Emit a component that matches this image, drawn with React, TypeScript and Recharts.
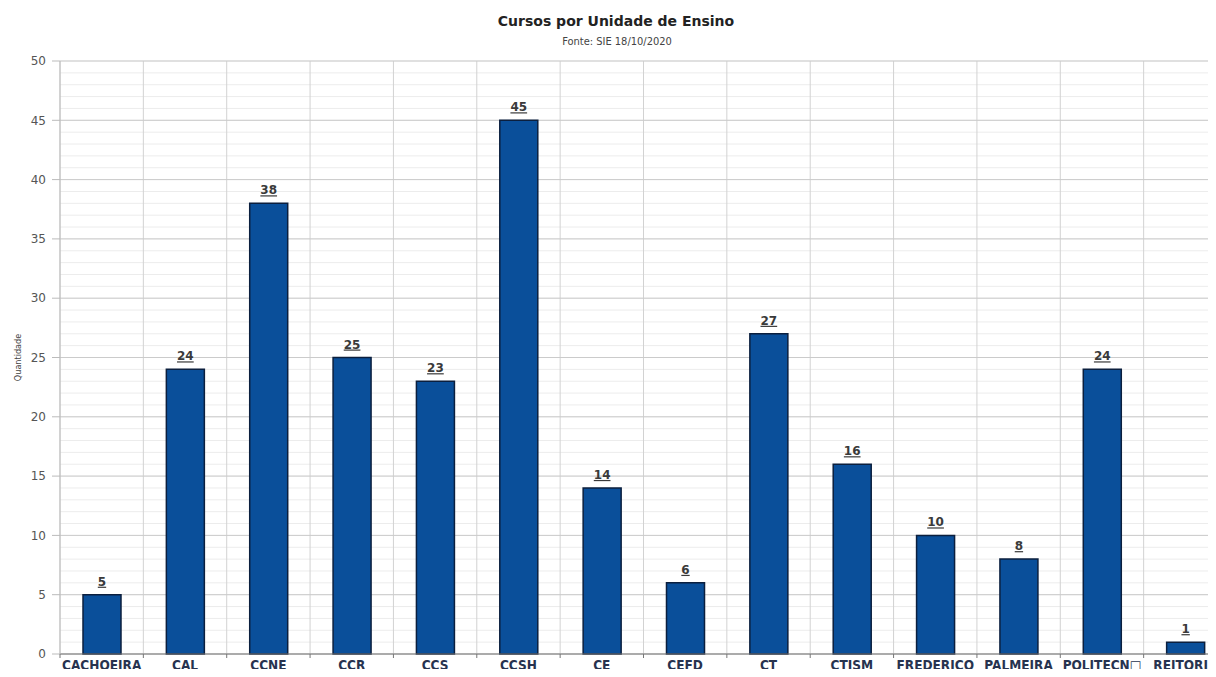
import React from 'react';
import {
  BarChart,
  Bar,
  XAxis,
  YAxis,
  CartesianGrid,
  LabelList,
  Label,
} from 'recharts';

// cursos por unidade (SIE 18/10/2020)
const unidades = [
  'CACHOEIRA',
  'CAL',
  'CCNE',
  'CCR',
  'CCS',
  'CCSH',
  'CE',
  'CEFD',
  'CT',
  'CTISM',
  'FREDERICO',
  'PALMEIRA',
  'POLITECN\u25A1',
  'REITORIA',
];
const cursos = [5, 24, 38, 25, 23, 45, 14, 6, 27, 16, 10, 8, 24, 1];

const Y_MAX = 50;
const yTicks = [0, 5, 10, 15, 20, 25, 30, 35, 40, 45, 50];
const yMinorTicks = Array.from({ length: Y_MAX + 1 }, (_, i) => i);

const data = unidades.map((u, i) => ({ unidade: u, cursos: cursos[i] }));

const FONT = '"DejaVu Sans", sans-serif';
const FONT_COND = '"DejaVu Sans Condensed", "DejaVu Sans", sans-serif';

// aplica a escala do eixo, seja funcao d3 ou o objeto do recharts
const applyScale = (scale: any, v: any) => {
  if (typeof scale === 'function') return scale(v);
  if (scale && typeof scale.map === 'function') return scale.map(v);
  return undefined;
};

// grade fina: uma linha por unidade do eixo Y
const minorLines = ({ yAxis, offset }: any) =>
  yMinorTicks.map((v) => {
    const p = applyScale(yAxis?.scale, v);
    return typeof p === 'number' && !isNaN(p)
      ? p
      : offset.top + offset.height * (1 - v / Y_MAX);
  });

// linhas verticais nos limites de cada categoria
const bandEdges = ({ offset }: any) => {
  const step = offset.width / unidades.length;
  return [...unidades.map((_, i) => offset.left + i * step), offset.left + offset.width];
};

function UnidadeTick(props: any) {
  const { x, y, payload, index, width, visibleTicksCount } = props;
  const half =
    payload.offset > 0 ? payload.offset : width / (visibleTicksCount || unidades.length) / 2;
  const last = index === unidades.length - 1;
  return (
    <g>
      <line x1={x - half} x2={x - half} y1={y} y2={y + 4} stroke='#777' />
      {last && <line x1={x + half} x2={x + half} y1={y} y2={y + 4} stroke='#777' />}
      <text
        x={x}
        y={y + 6}
        dy='0.71em'
        textAnchor='middle'
        fontFamily={FONT_COND}
        fontSize={13.5}
        fontWeight='bold'
        fill='#27334f'
      >
        {payload.value}
      </text>
    </g>
  );
}

function ValorLabel(props: any) {
  const { x, y, width, value } = props;
  return (
    <text
      x={x + width / 2}
      y={y - 9}
      textAnchor='middle'
      fontFamily={FONT}
      fontSize={12}
      fontWeight='bold'
      fill='#3a3a3a'
      textDecoration='underline'
    >
      {value}
    </text>
  );
}

export default function App() {
  return (
    <div
      style={{
        position: 'relative',
        margin: -8,
        width: 1216,
        height: 677,
        overflow: 'hidden',
        background: '#fff',
      }}
    >
      <div
        style={{
          position: 'absolute',
          left: 0,
          width: 1232,
          top: 13,
          textAlign: 'center',
          fontFamily: FONT,
          fontWeight: 'bold',
          fontSize: 14,
          color: '#222',
        }}
      >
        Cursos por Unidade de Ensino
      </div>
      <div
        style={{
          position: 'absolute',
          left: 0,
          width: 1234,
          top: 35,
          textAlign: 'center',
          fontFamily: FONT_COND,
          fontSize: 11,
          color: '#444',
        }}
      >
        Fonte: SIE 18/10/2020
      </div>
      <div style={{ position: 'absolute', left: 0, top: 0 }}>
        <BarChart
          width={1240}
          height={677}
          data={data}
          margin={{ top: 61, right: 13, bottom: 0, left: 0 }}
          barCategoryGap={0}
        >
          <CartesianGrid
            vertical={false}
            horizontalCoordinatesGenerator={minorLines}
            stroke='#ececec'
          />
          <CartesianGrid
            horizontal={false}
            verticalCoordinatesGenerator={bandEdges}
            stroke='#d2d2d2'
          />
          <CartesianGrid vertical={false} stroke='#cbcbcb' />
          <XAxis
            dataKey='unidade'
            interval={0}
            height={23}
            tickLine={false}
            tickSize={0}
            tickMargin={0}
            axisLine={{ stroke: '#777' }}
            tick={<UnidadeTick />}
          />
          <YAxis
            width={60}
            domain={[0, Y_MAX]}
            ticks={yTicks}
            interval={0}
            axisLine={{ stroke: '#bbb' }}
            tickLine={{ stroke: '#bbb' }}
            tickSize={8}
            tickMargin={6}
            tick={{ fontFamily: FONT, fontSize: 12, fill: '#555' }}
          >
            <Label
              value='Quantidade'
              angle={-90}
              position='insideLeft'
              offset={18}
              style={{ fontFamily: FONT_COND, fontSize: 9, fill: '#444', textAnchor: 'middle' }}
            />
          </YAxis>
          <Bar
            dataKey='cursos'
            barSize={38}
            fill='#0a4f9a'
            stroke='#0b1f3e'
            strokeWidth={1.5}
            isAnimationActive={false}
          >
            <LabelList dataKey='cursos' content={<ValorLabel />} />
          </Bar>
        </BarChart>
      </div>
    </div>
  );
}
